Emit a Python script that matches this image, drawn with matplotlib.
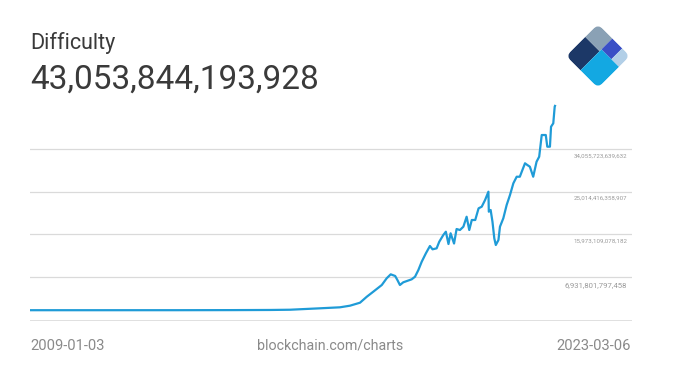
import numpy as np
import pandas as pd
import matplotlib
matplotlib.use("Agg")
import matplotlib.pyplot as plt
import matplotlib.dates as mdates
from matplotlib.patches import Polygon, FancyBboxPatch
from matplotlib.transforms import Affine2D

plt.rcParams["font.family"] = ["Roboto", "DejaVu Sans"]

title = "Difficulty"
latest = "43,053,844,193,928"
start_label = "2009-01-03"
end_label = "2023-03-06"
source = "blockchain.com/charts"

# difficulty in trillions
dates = [
    "2009-01-03", "2011-01-01", "2013-01-01", "2014-07-01", "2015-07-01",
    "2016-01-08", "2016-10-30", "2017-05-14", "2017-08-21", "2017-11-28",
    "2018-02-03", "2018-04-08", "2018-07-01", "2018-08-18", "2018-09-27",
    "2018-11-10", "2018-12-02", "2018-12-27", "2019-01-29", "2019-04-22",
    "2019-05-25", "2019-06-27", "2019-07-30", "2019-09-09", "2019-10-19",
    "2019-11-14", "2019-12-24", "2020-01-19", "2020-02-28", "2020-03-24",
    "2020-04-19", "2020-05-10", "2020-06-13", "2020-07-08", "2020-08-10",
    "2020-09-13", "2020-10-15", "2020-11-10", "2020-12-05", "2021-01-08",
    "2021-02-10", "2021-03-13", "2021-04-15", "2021-05-18", "2021-05-22",
    "2021-06-09", "2021-06-27", "2021-07-15", "2021-07-30", "2021-08-25",
    "2021-09-09", "2021-10-12", "2021-11-14", "2021-12-17", "2022-01-19",
    "2022-02-21", "2022-03-24", "2022-04-12", "2022-05-14", "2022-06-06",
    "2022-07-01", "2022-08-03", "2022-09-05", "2022-10-01", "2022-10-26",
    "2022-12-05", "2022-12-20", "2023-01-15", "2023-01-26", "2023-02-17",
    "2023-03-03", "2023-03-06",
]
difficulty_t = [
    0.0, 0.0, 0.003, 0.02, 0.05,
    0.10, 0.40, 0.61, 0.95, 1.58,
    2.84, 3.90, 5.31, 6.72, 7.56,
    7.21, 6.36, 5.31, 5.88, 6.51,
    7.06, 8.47, 10.22, 11.99, 13.53,
    12.83, 13.04, 14.43, 15.85, 16.54,
    13.95, 16.21, 14.05, 17.11, 16.90,
    17.60, 19.70, 16.90, 19.01, 19.01,
    21.47, 21.81, 23.22, 24.97, 20.76,
    21.12, 18.65, 15.15, 13.74, 14.79,
    17.60, 19.37, 22.17, 24.28, 26.74,
    28.13, 28.13, 29.19, 30.96, 30.60,
    30.24, 28.13, 31.29, 32.35, 36.92,
    36.92, 34.46, 34.46, 38.67, 39.39,
    42.89, 43.054,
]
grid_values = [6931801797458, 15973109078182, 25014416358907, 34055723639632]

W, H = 675, 370
line_color = "#1f9bd7"
grid_color = "#dadada"
footer_color = "#8a8a8a"

x = pd.to_datetime(dates)
y = np.array(difficulty_t) * 1e12

fig = plt.figure(figsize=(W / 100, H / 100), dpi=100)

# main plot area in pixels: x 30..632, y 100..320.5
ax = fig.add_axes([30 / W, 1 - 320.5 / H, 602 / W, 220.5 / H])
ax.plot(x, y, color=line_color, lw=1.6, solid_joinstyle="round")

t0 = pd.Timestamp(start_label)
t1 = pd.Timestamp(end_label)
span = (t1 - t0).days
x_end = t0 + pd.Timedelta(days=span * (632 - 30.5) / 524.5)
ax.set_xlim(mdates.date2num(t0 - pd.Timedelta(days=5)), mdates.date2num(x_end))
ax.set_ylim(-2.17e12, 44.30e12)

for i, v in enumerate(grid_values):
    ax.axhline(v, color=grid_color, lw=0.9, zorder=0)
    ax.annotate(f"{v:,}", xy=(0.992, v), xycoords=("axes fraction", "data"),
                xytext=(0, -3.3), textcoords="offset points",
                ha="right", va="top", color="#9a9a9a",
                fontsize=5.6 if i == 0 else 4.4)
ax.axhline(-2.17e12, color=grid_color, lw=1.2, zorder=0)

ax.set_axis_off()

# header
fig.text(30 / W, 1 - 49.5 / H, title, fontsize=15.5, color="#3a3a3a",
         ha="left", va="baseline")
fig.text(30 / W, 1 - 88.5 / H, latest, fontsize=24, color="#3a3a3a",
         ha="left", va="baseline")

# footer
fig.text(30 / W, 1 - 346 / H, start_label, fontsize=10.6, color=footer_color,
         ha="left", va="center")
fig.text(330.5 / W, 1 - 346 / H, source, fontsize=10.3, color=footer_color,
         ha="center", va="center")
fig.text(631 / W, 1 - 346 / H, end_label, fontsize=10.6, color=footer_color,
         ha="right", va="center")

# logo: rounded diamond made of coloured tiles
lax = fig.add_axes([566 / W, 1 - 88 / H, 64 / W, 64 / H])
lax.set_xlim(0, np.sqrt(2))
lax.set_ylim(-np.sqrt(0.5), np.sqrt(0.5))
lax.set_axis_off()
s = np.sqrt(0.5)
rot = Affine2D.from_values(s, s, s, -s, 0, 0) + lax.transData
clip = FancyBboxPatch((0, 0), 1, 1, boxstyle="round,pad=0,rounding_size=0.15",
                      transform=rot, facecolor="none", edgecolor="none")
lax.add_patch(clip)
tiles = [
    ([(0, 0), (0.6, 0), (0.6, 0.45), (0, 0.45)], "#1c3867"),
    ([(0, 0.45), (0.66, 0.45), (0.66, 1), (0, 1)], "#13a8e2"),
    ([(0.6, 0), (1, 0), (1, 0.45), (0.6, 0.45)], "#8aa1b5"),
    ([(0.66, 0.45), (1, 0.45), (1, 0.76), (0.66, 0.76)], "#3a4fc6"),
    ([(0.66, 0.76), (1, 0.76), (1, 1), (0.66, 1)], "#b2cfe7"),
]
for pts, c in tiles:
    p = Polygon(pts, closed=True, facecolor=c, edgecolor="none", transform=rot)
    lax.add_patch(p)
    p.set_clip_path(clip)

fig.savefig("out.png", dpi=100)
